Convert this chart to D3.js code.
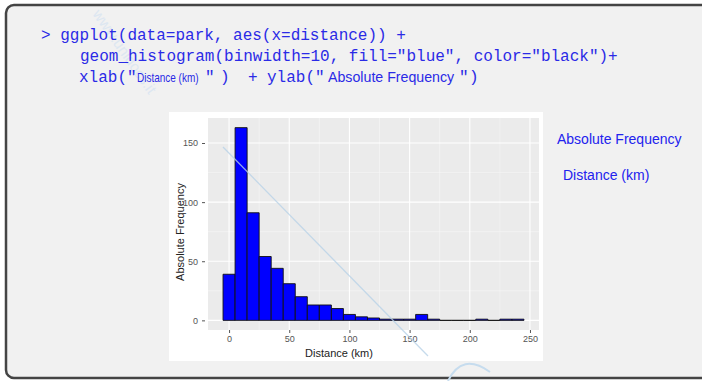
<!DOCTYPE html>
<meta charset="utf-8">
<script src="https://cdn.jsdelivr.net/npm/d3@7"></script>
<style>
body { margin: 0; background: #fff; }
text { font-family: "Liberation Sans", Arial, sans-serif; }
.code { font-family: "Liberation Mono", "Courier New", monospace; font-size: 16px; fill: #2a2ae6; }
</style>
<body>
<script>

// histogram counts, binwidth 10, bins centred on 0, 10, 20 ...
var binCenters = [0, 10, 20, 30, 40, 50, 60, 70, 80, 90, 100, 110, 120,
                  130, 140, 150, 160, 170, 180, 190, 200, 210, 220, 230, 240];
var counts = [39, 163, 91, 54, 44, 31, 20, 13, 13, 10, 5, 3, 2,
              1, 1, 1, 5, 1, 0, 0, 0, 1, 0, 1, 1];
var xTicks = [0, 50, 100, 150, 200, 250];
var yTicks = [0, 50, 100, 150];
var binwidth = 10;

var width = 702, height = 381;

var svg = d3.select("body").append("svg")
    .attr("width", width)
    .attr("height", height);

// slide frame
svg.append("rect")
    .attr("x", 6).attr("y", 5)
    .attr("width", 720).attr("height", 373)
    .attr("rx", 8)
    .style("fill", "#f1f1f1")
    .style("stroke", "#444")
    .style("stroke-width", 2.5);

// watermark text (very faint)
svg.append("text")
    .attr("transform", "translate(92,14) rotate(55)")
    .style("font-size", "15px").style("fill", "#dde7f1")
    .text("www.unidocs.it");

// code lines
svg.append("text").attr("class", "code").attr("x", 41).attr("y", 40)
    .attr("xml:space", "preserve")
    .text("> ggplot(data=park, aes(x=distance)) +");
svg.append("text").attr("class", "code").attr("x", 80).attr("y", 61)
    .attr("xml:space", "preserve")
    .text('geom_histogram(binwidth=10, fill="blue", color="black")+');

// third line mixes mono code with sans labels; sx squeezes the sans text
var line3 = [
  {t: 'xlab(', x: 79, mono: true},
  {t: '"', x: 127, mono: true},
  {t: 'Distance (km)', x: 137, mono: false, size: 12.5, sx: 0.8},
  {t: '"', x: 205, mono: true},
  {t: ')', x: 220, mono: true},
  {t: '+', x: 248, mono: true},
  {t: 'ylab(', x: 267, mono: true},
  {t: '"', x: 315, mono: true},
  {t: 'Absolute Frequency', x: 328, mono: false, size: 14.2, sx: 1},
  {t: '"', x: 459, mono: true},
  {t: ')', x: 469, mono: true}
];
line3.forEach(function(s) {
  if (s.mono) {
    svg.append("text").attr("class", "code")
        .attr("x", s.x).attr("y", 82).text(s.t);
  } else {
    svg.append("text")
        .attr("transform", "translate(" + s.x + ",82) scale(" + s.sx + ",1)")
        .style("font-size", s.size + "px").style("fill", "#2a2ae6")
        .text(s.t);
  }
});

// side labels
svg.append("text").attr("x", 557).attr("y", 144)
    .style("font-size", "14px").style("fill", "#2222ee")
    .text("Absolute Frequency");
svg.append("text").attr("x", 563).attr("y", 180)
    .style("font-size", "14px").style("fill", "#2222ee")
    .text("Distance (km)");

// plot image
svg.append("rect")
    .attr("x", 169).attr("y", 112)
    .attr("width", 374).attr("height", 249)
    .style("fill", "#fff");

var panel = {left: 208, right: 539, top: 118, bottom: 330};

var x = d3.scaleLinear().domain([-17.5, 257.5]).range([panel.left, panel.right]);
var y = d3.scaleLinear().domain([-8.15, 171.15]).range([panel.bottom, panel.top]);

svg.append("rect")
    .attr("x", panel.left).attr("y", panel.top)
    .attr("width", panel.right - panel.left)
    .attr("height", panel.bottom - panel.top)
    .style("fill", "#ebebeb");

var g = svg.append("g");

// minor grid
g.selectAll(".xminor").data([25, 75, 125, 175, 225]).enter().append("line")
    .attr("x1", function(d) { return x(d); }).attr("x2", function(d) { return x(d); })
    .attr("y1", panel.top).attr("y2", panel.bottom)
    .style("stroke", "#f7f7f7").style("stroke-width", 0.6);
g.selectAll(".yminor").data([25, 75, 125]).enter().append("line")
    .attr("y1", function(d) { return y(d); }).attr("y2", function(d) { return y(d); })
    .attr("x1", panel.left).attr("x2", panel.right)
    .style("stroke", "#f7f7f7").style("stroke-width", 0.6);

// major grid
g.selectAll(".xmajor").data(xTicks).enter().append("line")
    .attr("x1", function(d) { return x(d); }).attr("x2", function(d) { return x(d); })
    .attr("y1", panel.top).attr("y2", panel.bottom)
    .style("stroke", "#fff").style("stroke-width", 1.1);
g.selectAll(".ymajor").data(yTicks).enter().append("line")
    .attr("y1", function(d) { return y(d); }).attr("y2", function(d) { return y(d); })
    .attr("x1", panel.left).attr("x2", panel.right)
    .style("stroke", "#fff").style("stroke-width", 1.1);

// bars
g.selectAll("path.bar").data(binCenters).enter().append("path")
    .attr("class", "bar")
    .attr("d", function(d, i) {
      var x0 = x(d - binwidth / 2), x1 = x(d + binwidth / 2);
      return "M" + x0 + "," + y(0) + "V" + y(counts[i]) + "H" + x1 + "V" + y(0) + "Z";
    })
    .style("fill", "#0000ff")
    .style("stroke", "#111")
    .style("stroke-width", 0.9);

// axes
var xAxis = svg.append("g")
    .attr("transform", "translate(0," + panel.bottom + ")")
    .call(d3.axisBottom(x).tickValues(xTicks).tickSize(3).tickPadding(3));
var yAxis = svg.append("g")
    .attr("transform", "translate(" + (panel.left - 3) + ",0)")
    .call(d3.axisLeft(y).tickValues(yTicks).tickSize(3).tickPadding(4));
[xAxis, yAxis].forEach(function(a) {
  a.select(".domain").remove();
  a.selectAll(".tick line").style("stroke", "#555");
  a.selectAll(".tick text")
      .style("font-family", "'Liberation Sans', Arial, sans-serif")
      .style("font-size", "9px").style("fill", "#555");
});

svg.append("text")
    .attr("x", 339).attr("y", 357)
    .attr("text-anchor", "middle")
    .style("font-size", "11px").style("fill", "#222")
    .text("Distance (km)");
svg.append("text")
    .attr("transform", "translate(184,232) rotate(-90)")
    .attr("text-anchor", "middle")
    .style("font-size", "11px").style("fill", "#222")
    .text("Absolute Frequency");

// watermark line and logo arc
svg.append("line")
    .attr("x1", 223).attr("y1", 147).attr("x2", 428).attr("y2", 356)
    .style("stroke", "#b9d3e8").style("stroke-width", 1.3).style("opacity", 0.8);
svg.append("path")
    .attr("d", "M448,381 Q462,352 490,372")
    .style("fill", "none").style("stroke", "#c6dcee").style("stroke-width", 2);

</script>
</body>
